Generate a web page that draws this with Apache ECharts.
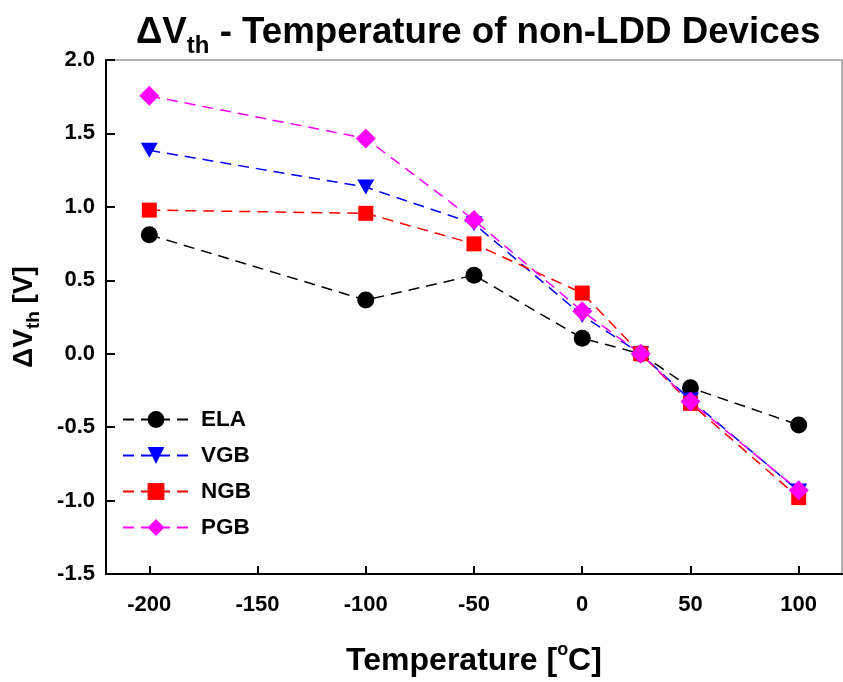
<!DOCTYPE html>
<html>
<head>
<meta charset="utf-8">
<script src="https://cdn.jsdelivr.net/npm/echarts@6/dist/echarts.min.js"></script>
<style>
  html, body { margin: 0; padding: 0; background: #fff; }
  #chart { width: 843px; height: 682px; }
</style>
</head>
<body>
<div id="chart"></div>
<script>
// temperatures in °C (room temperature point near 27)
const temps = [-200, -100, -50, 0, 27, 50, 100]
const xTicks = [-200, -150, -100, -50, 0, 50, 100]

// ΔVth in volts
const ela = [0.81, 0.365, 0.535, 0.105, 0.0, -0.232, -0.485]
const vgb = [1.385, 1.135, 0.885, 0.26, 0.0, -0.315, -0.935]
const ngb = [0.978, 0.956, 0.748, 0.413, 0.0, -0.338, -0.98]
const pgb = [1.756, 1.466, 0.91, 0.29, 0.0, -0.326, -0.93]

const font = 'Liberation Sans, Arial, sans-serif'
const pairs = vals => temps.map((t, i) => [t, vals[i]])

const makeSeries = (name, vals, color, symbol, size, rotate) => ({
  name,
  type: 'line',
  data: pairs(vals),
  symbol,
  symbolSize: size,
  symbolRotate: rotate || 0,
  lineStyle: { color, width: 1.5, type: [11, 7] },
  itemStyle: { color, borderWidth: 0 },
  emphasis: { disabled: true },
  animation: false,
})

const chart = echarts.init(document.getElementById('chart'))

chart.setOption({
  backgroundColor: '#fff',
  title: {
    text: '{a|ΔV}{sub|th}{a| - Temperature of non-LDD Devices}',
    left: 131,
    top: 9,
    textStyle: {
      rich: {
        a: { fontFamily: font, fontWeight: 'bold', fontSize: 36.7, lineHeight: 36, color: '#000', verticalAlign: 'top' },
        sub: { fontFamily: font, fontWeight: 'bold', fontSize: 24, lineHeight: 24, color: '#000', verticalAlign: 'top', padding: [20, 0, 0, 0] },
      },
    },
  },
  legend: {
    orient: 'vertical',
    left: 117,
    top: 403,
    itemWidth: 66,
    itemHeight: 21,
    itemGap: 13,
    data: ['ELA', 'VGB', 'NGB', 'PGB'],
    textStyle: { fontFamily: font, fontWeight: 'bold', fontSize: 22.5, lineHeight: 22, color: '#000', padding: [0, 0, 0, 7] },
  },
  grid: {
    left: 106,
    top: 60,
    width: 736,
    height: 514,
    show: true,
    borderColor: '#999',
    borderWidth: 1.5,
    backgroundColor: 'transparent',
  },
  xAxis: {
    type: 'value',
    min: -220,
    max: 120,
    name: '{a|Temperature [}{sup|o}{a|C]}',
    nameLocation: 'middle',
    nameGap: 67,
    nameTextStyle: {
      rich: {
        a: { fontFamily: font, fontWeight: 'bold', fontSize: 32, lineHeight: 36, color: '#000', verticalAlign: 'bottom' },
        sup: { fontFamily: font, fontWeight: 'bold', fontSize: 18, lineHeight: 18, color: '#000', verticalAlign: 'top' },
      },
    },
    axisLine: { onZero: false, lineStyle: { color: '#000', width: 2 } },
    axisTick: { inside: true, length: 8, customValues: xTicks, lineStyle: { color: '#000', width: 2 } },
    axisLabel: {
      customValues: xTicks,
      margin: 20,
      fontFamily: font,
      fontWeight: 'bold',
      fontSize: 22,
      color: '#000',
    },
    splitLine: { show: false },
  },
  yAxis: {
    type: 'value',
    min: -1.5,
    max: 2.0,
    interval: 0.5,
    name: '{a|ΔV}{sub|th}{a| [V]}',
    nameLocation: 'middle',
    nameRotate: 90,
    nameGap: 68,
    nameTextStyle: {
      rich: {
        a: { fontFamily: font, fontWeight: 'bold', fontSize: 28, lineHeight: 28, color: '#000', verticalAlign: 'top' },
        sub: { fontFamily: font, fontWeight: 'bold', fontSize: 19, lineHeight: 19, color: '#000', verticalAlign: 'top', padding: [14, 0, 0, 0] },
      },
    },
    axisLine: { show: true, onZero: false, lineStyle: { color: '#000', width: 2 } },
    axisTick: { show: true, inside: true, length: 9, lineStyle: { color: '#000', width: 2 } },
    axisLabel: {
      margin: 11,
      fontFamily: font,
      fontWeight: 'bold',
      fontSize: 22,
      color: '#000',
      formatter: v => v.toFixed(1),
    },
    splitLine: { show: false },
  },
  series: [
    makeSeries('ELA', ela, '#000000', 'circle', 17),
    makeSeries('VGB', vgb, '#0000ff', 'triangle', [17, 15], 180),
    makeSeries('NGB', ngb, '#ff0000', 'rect', 15),
    makeSeries('PGB', pgb, '#ff00ff', 'diamond', 20),
  ],
})
</script>
</body>
</html>
